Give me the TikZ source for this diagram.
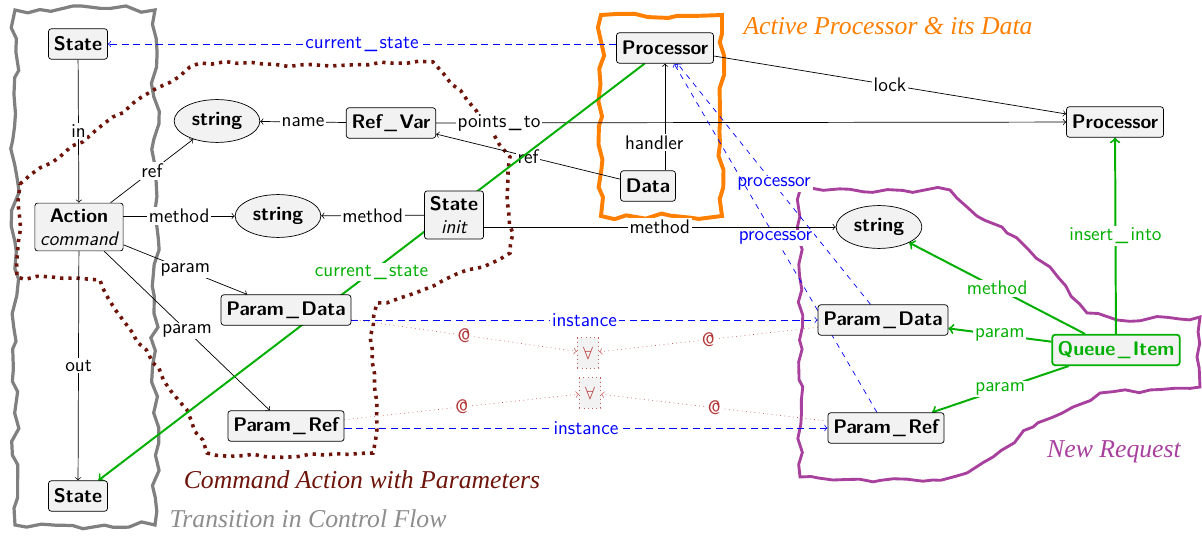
\documentclass[tikz,border=0pt]{standalone}
\usepackage{fontspec}
\newfontfamily\titlefont{Liberation Serif}
\usetikzlibrary{shapes.geometric,decorations.pathmorphing}
\definecolor{cgray}{RGB}{128,128,128}
\definecolor{cbrown}{RGB}{110,20,10}
\definecolor{corange}{RGB}{255,127,0}
\definecolor{cpurple}{RGB}{168,64,158}
\definecolor{cgreen}{RGB}{0,175,0}
\definecolor{cblue}{RGB}{0,0,255}
\definecolor{cred}{RGB}{180,55,55}
\definecolor{clred}{RGB}{200,95,95}
\pgfdeclarelayer{back}
\pgfdeclarelayer{wires}
\pgfsetlayers{back,wires,main}
\def\us{\kern.12em{\mdseries\_}\kern.12em}
\def\fs{\fontsize{11}{13}\selectfont}
\begin{document}
\begin{tikzpicture}[x=0.56pt,y=-0.56pt]
\tikzset{
    box/.style={draw, rounded corners=1.5pt, fill=gray!10, font=\sffamily\fs\bfseries, inner sep=3pt, minimum height=17pt},
    strg/.style={draw, ellipse, fill=gray!10, font=\sffamily\fs\bfseries, minimum width=48pt, minimum height=24pt, inner sep=1pt},
    forall/.style={draw=clred, dotted, fill=gray!10, text=cred, minimum width=12pt, minimum height=17pt, inner sep=1pt},
    lbl/.style={fill=white, font=\sffamily\fs, inner sep=1pt},
    rel/.style={->},
    inst/.style={->, cblue, dash pattern=on 4pt off 2.5pt},
    atrel/.style={->, clred, dotted},
    req/.style={->, cgreen, line width=1.1pt},
    region/.style={line width=1.8pt, decorate, decoration={random steps, segment length=8pt, amplitude=2.4pt}},
    ttl/.style={font=\titlefont\itshape\Large}}
\pgfmathsetseed{4711}
\useasboundingbox (0,0) rectangle (1202,538);

% regions
\begin{pgfonlayer}{back}
\draw[region, cgray] (15,10) rectangle (155,525);
\draw[region, corange, line width=2.2pt, decoration={amplitude=2pt}] (601,15) rectangle (722,216);
\draw[cbrown, line width=2pt, dash pattern=on 1.8pt off 2.8pt, decorate, decoration={random steps, segment length=7pt, amplitude=1.2pt}]
  (20,184) -- (157,88) -- (200,63) -- (330,66) -- (433,62) -- (443,73) -- (467,100) -- (493,133) -- (510,157)
  -- (507,200) -- (513,233) -- (510,253) -- (483,267) -- (467,270) -- (400,298) -- (377,303) -- (370,337)
  -- (377,403) -- (373,453) -- (267,457) -- (207,453) -- (187,410) -- (153,363) -- (123,320) -- (100,280)
  -- (17,277) -- cycle;
\draw[region, cpurple, line width=1.6pt, decoration={random steps, segment length=7pt, amplitude=1.6pt}]
  (800,190) -- (950,190) -- (967,207) -- (1007,233) -- (1050,267) -- (1087,313) -- (1117,320) -- (1200,317)
  -- (1197,357) -- (1200,387) -- (1100,393) -- (1073,407) -- (1033,427) -- (993,457) -- (967,473)
  -- (933,480) -- (833,480) -- (800,477) -- cycle;
\end{pgfonlayer}

\node[ttl, text=cgray!90] (ttrans) at (308,519) {Transition in Control Flow};
\node[ttl, text=cbrown] (tcmd) at (362,480) {Command Action with Parameters};
\node[ttl, text=corange] (tproc) at (888,26) {Active Processor \& its Data};
\node[ttl, text=cpurple] (treq) at (1114,452) {New Request};

% nodes
\node[box] (stTop) at (78,44) {State};
\node[box, align=center] (act) at (79,227) {Action\\{\mdseries\itshape command}};
\node[box] (stBot) at (78,496) {State};
\node[strg] (strA) at (217,121) {string};
\node[box] (refv) at (391,123) {Ref\us Var};
\node[strg] (strB) at (278,216) {string};
\node[box, align=center] (init) at (454,215) {State\\{\mdseries\itshape init}};
\node[box] (pdL) at (286,310) {Param\us Data};
\node[box] (prL) at (286,426) {Param\us Ref};
\node[box] (procA) at (665,48) {Processor};
\node[box] (data) at (648,186) {Data};
\node[box] (procB) at (1115,122) {Processor};
\node[strg] (strC) at (879,227) {string};
\node[box] (pdR) at (883,320) {Param\us Data};
\node[box] (prR) at (886,428) {Param\us Ref};
\node[box, draw=cgreen, text=cgreen, line width=1pt] (queue) at (1116,350) {Queue\us Item};
\node[forall] (fa) at (588,353) {$\forall$};
\node[forall] (fb) at (590,393) {$\forall$};

% connectors
\begin{pgfonlayer}{wires}
\draw[rel] (stTop) -- node[lbl]{in} (act);
\draw[rel] (act) -- node[lbl]{out} (stBot);
\draw[rel] (act) -- node[lbl]{ref} (strA);
\draw[rel] (act.east |- strB) -- node[lbl]{method} (strB);
\draw[rel] (act) -- node[lbl]{param} (pdL);
\draw[rel] (act) -- node[lbl]{param} (prL);
\draw[rel] (refv) -- node[lbl]{name} (strA);
\draw[rel] (refv) -- node[lbl, pos=0.1]{points\us to} (procB);
\draw[rel] (data) -- node[lbl]{ref} (refv);
\draw[rel] (data.north -| procA) -- node[lbl, pos=0.26, xshift=-6pt]{handler} (procA);
\draw[rel] (init) -- node[lbl]{method} (strB);
\draw[rel] (init.east |- strC) -- node[lbl]{method} (strC);
\draw[rel] (procA) -- node[lbl]{lock} (procB);
\draw[inst] (procA.west |- stTop) -- node[lbl, text=cblue]{current\us state} (stTop);
\draw[req] (procA) -- node[lbl]{current\us state} (stBot);
\draw[inst] (pdL.east |- pdR) -- node[lbl, text=cblue]{instance} (pdR);
\draw[inst] (prL.east |- prR) -- node[lbl, text=cblue]{instance} (prR);
\draw[->, cblue, thin, dashed] (pdR) -- node[lbl, text=cblue]{processor} (procA);
\draw[->, cblue, thin, dashed] (prR) -- node[lbl, text=cblue]{processor} (procA);
\draw[atrel] (pdL) -- node[lbl, text=cred]{@} (fa);
\draw[atrel] (pdR) -- node[lbl, text=cred]{@} (fa);
\draw[atrel] (prL) -- node[lbl, text=cred]{@} (fb);
\draw[atrel] (prR) -- node[lbl, text=cred]{@} (fb);
\draw[req] (queue) -- node[lbl, text=cgreen]{method} (strC);
\draw[req] (queue) -- node[lbl, text=cgreen]{param} (pdR);
\draw[req] (queue) -- node[lbl, text=cgreen]{param} (prR);
\draw[req] (queue) -- node[lbl, text=cgreen]{insert\us into} (procB);
\end{pgfonlayer}
\end{tikzpicture}
\end{document}
